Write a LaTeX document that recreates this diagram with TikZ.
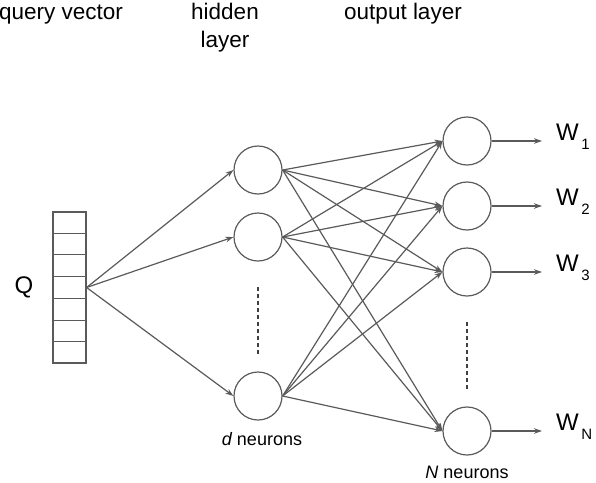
\documentclass[tikz,border=0pt]{standalone}
\usepackage{fontspec}
\setmainfont{Liberation Sans}
\usetikzlibrary{arrows.meta,calc}
\definecolor{lc}{HTML}{5A5A5A}
\begin{document}
\begin{tikzpicture}[x=1pt,y=-1pt,
  neuron/.style={draw=lc,line width=1.2pt,circle,minimum size=48pt,inner sep=0pt},
  conn/.style={draw=lc,line width=1.2pt,-{Stealth[length=8pt,width=5.5pt]}},
  dots/.style={draw=black!75,line width=1.2pt,dash pattern=on 4pt off 3pt},
  title/.style={font=\fontsize{22.5}{28}\selectfont,anchor=base,inner sep=0pt},
  sub/.style={font=\fontsize{18}{20}\selectfont,anchor=base,inner sep=0pt},
  wlab/.style={font=\fontsize{24}{26}\selectfont,anchor=west,inner sep=0pt}]
\useasboundingbox (0,0) rectangle (596,482);
% titles
\node[title,anchor=base west] (tq) at (-1,19) {query vector};
\node[title] (th1) at (225,19) {hidden};
\node[title] (th2) at (225,47) {layer};
\node[title] (to) at (403,19) {output layer};
% query vector
\node[draw=lc,line width=1.2pt,minimum width=33pt,minimum height=151pt,inner sep=0pt] (qv) at (69.5,287.5) {};
\foreach \i in {1,...,6}{
  \draw[lc,line width=1.2pt] ($(qv.north west)!\i/7!(qv.south west)$) -- ($(qv.north east)!\i/7!(qv.south east)$);
}
\node[font=\fontsize{24}{26}\selectfont,inner sep=0pt] (q) at (24,287) {Q};
% hidden
\node[neuron] (h1) at (258,170) {};
\node[neuron] (h2) at (258,237) {};
\node[neuron] (hd) at (258,396) {};
\coordinate (hda) at (258,287);
\coordinate (hdb) at (258,355);
\draw[dots] (hda) -- (hdb);
\node[sub] (dn) at (262,445) {\itshape d\upshape\ neurons};
% output
\node[neuron] (o1) at (467,141) {};
\node[neuron] (o2) at (467,206) {};
\node[neuron] (o3) at (467,272) {};
\node[neuron] (oN) at (467,431) {};
\coordinate (oda) at (467,322);
\coordinate (odb) at (467,390);
\draw[dots] (oda) -- (odb);
\node[sub] (nn) at (467,478) {\itshape N\upshape\ neurons};
% input connections
\foreach \h in {h1,h2,hd}{
  \draw[conn] (qv.east) -- (\h.west);
}
% hidden to output
\foreach \h in {h1,h2,hd}{
  \foreach \o in {o1,o2,o3,oN}{
    \draw[conn] (\h.east) -- (\o.west);
  }
}
% outputs
\foreach \o/\y/\s in {o1/141/1,o2/206/2,o3/272/3,oN/431/N}{
  \coordinate (e\o) at (542,\y);
  \draw[conn] (\o.east) -- (e\o);
  \node[wlab] (w\o) at (556,\y-4) {W\raisebox{-9pt}{\fontsize{15}{15}\selectfont\,\s}};
}
\end{tikzpicture}
\end{document}
